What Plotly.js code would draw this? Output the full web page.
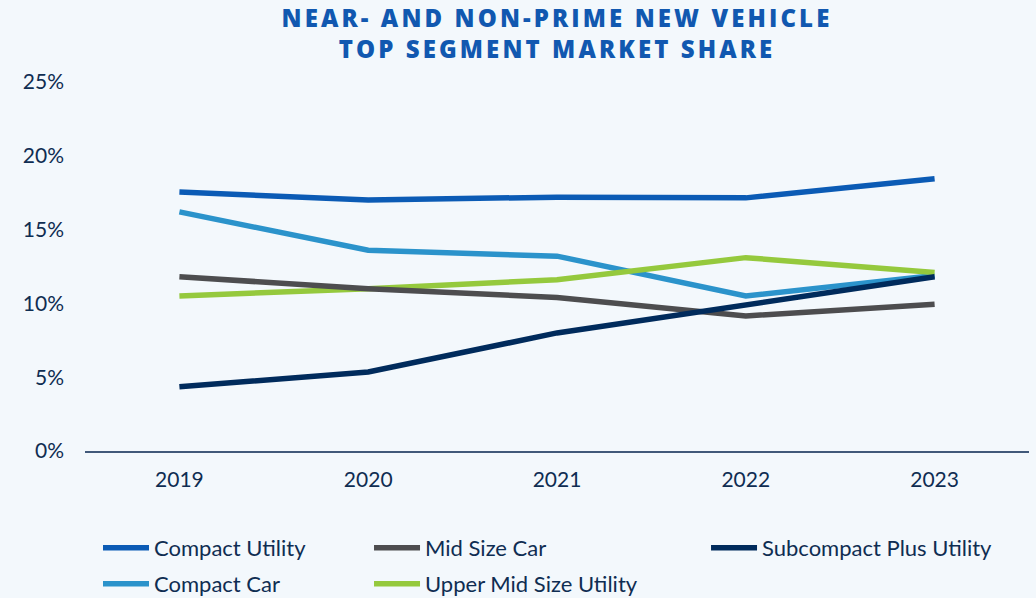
<!DOCTYPE html>
<html>
<head>
<meta charset="utf-8">
<script src="https://cdn.plot.ly/plotly-3.0.1.min.js"></script>
<style>
html,body{margin:0;padding:0;background:#F3F8FC;}
#chart{width:1036px;height:598px;}
.gtitle{letter-spacing:3.1px;}
</style>
</head>
<body>
<div id="chart"></div>
<script>
var years = ['2019', '2020', '2021', '2022', '2023'];
var compactUtility = [17.55, 17.0, 17.2, 17.15, 18.45];
var compactCar = [16.2, 13.6, 13.2, 10.5, 11.9];
var midSizeCar = [11.8, 11.0, 10.4, 9.15, 9.95];
var upperMidSizeUtility = [10.5, 11.0, 11.6, 13.1, 12.1];
var subcompactPlusUtility = [4.35, 5.35, 8.0, 9.9, 11.8];
var yTicks = [0, 5, 10, 15, 20, 25];
var yTickLabels = ['0%', '5%', '10%', '15%', '20%', '25%'];
var endLabels = ['18%', '12%', '10%'];

var FONT = 'Lato, "Open Sans", sans-serif';
var NAVY = '#0F2D52';

function tr(name, y, color, legendId) {
  return {
    type: 'scatter', mode: 'lines', name: name, x: years, y: y,
    line: {color: color, width: 5.5},
    legend: legendId, hoverinfo: 'x+y+name'
  };
}

var data = [
  tr('Compact Car', compactCar, '#2B93CB', 'legend4'),
  tr('Upper Mid Size Utility', upperMidSizeUtility, '#95C93D', 'legend5'),
  tr('Mid Size Car', midSizeCar, '#4D4D4F', 'legend2'),
  tr('Subcompact Plus Utility', subcompactPlusUtility, '#002B5C', 'legend3'),
  tr('Compact Utility', compactUtility, '#0B5BB5', 'legend')
];

function endAnn(text, yv) {
  return {
    x: years[years.length - 1], y: yv, xref: 'x', yref: 'y',
    text: '<b>' + text + '</b>', showarrow: false,
    xanchor: 'left', xshift: 11, yanchor: 'middle',
    font: {family: FONT, size: 16, color: NAVY}
  };
}

function leg(x, y) {
  return {
    orientation: 'h', xref: 'container', yref: 'container',
    x: x, xanchor: 'left', y: y, yanchor: 'top',
    font: {family: FONT, size: 22, color: NAVY},
    bgcolor: 'rgba(0,0,0,0)', itemwidth: 46
  };
}

var layout = {
  width: 1036, height: 598,
  paper_bgcolor: '#F3F8FC', plot_bgcolor: '#F3F8FC',
  margin: {l: 85, r: 7, t: 82, b: 147},
  title: {
    text: 'NEAR- AND NON-PRIME NEW VEHICLE<br>TOP SEGMENT MARKET SHARE',
    x: 0.5, xanchor: 'center', xref: 'paper', yref: 'container', y: 0.955, yanchor: 'middle',
    font: {family: '"Open Sans", sans-serif', size: 24, weight: 800, color: '#1158B0'}
  },
  xaxis: {
    type: 'category', range: [-0.5, 4.5],
    showgrid: false, zeroline: false,
    showline: true, linecolor: '#41597A', linewidth: 1.5,
    ticks: '', ticklabelstandoff: 9,
    tickfont: {family: FONT, size: 21, color: NAVY}
  },
  yaxis: {
    range: [0, 25], tickvals: yTicks, ticktext: yTickLabels,
    showgrid: false, zeroline: false, showline: false,
    ticks: '', ticklabelstandoff: 20,
    tickfont: {family: FONT, size: 21, color: NAVY}
  },
  showlegend: true,
  legend: leg(0.0946, 0.1187),
  legend2: leg(0.3562, 0.1187),
  legend3: leg(0.6815, 0.1187),
  legend4: leg(0.0946, 0.0585),
  legend5: leg(0.3562, 0.0585),
  annotations: [
    endAnn(endLabels[0], compactUtility[4]),
    endAnn(endLabels[1], upperMidSizeUtility[4]),
    endAnn(endLabels[2], midSizeCar[4])
  ]
};

Plotly.newPlot('chart', data, layout, {displayModeBar: false, staticPlot: true});
</script>
</body>
</html>
